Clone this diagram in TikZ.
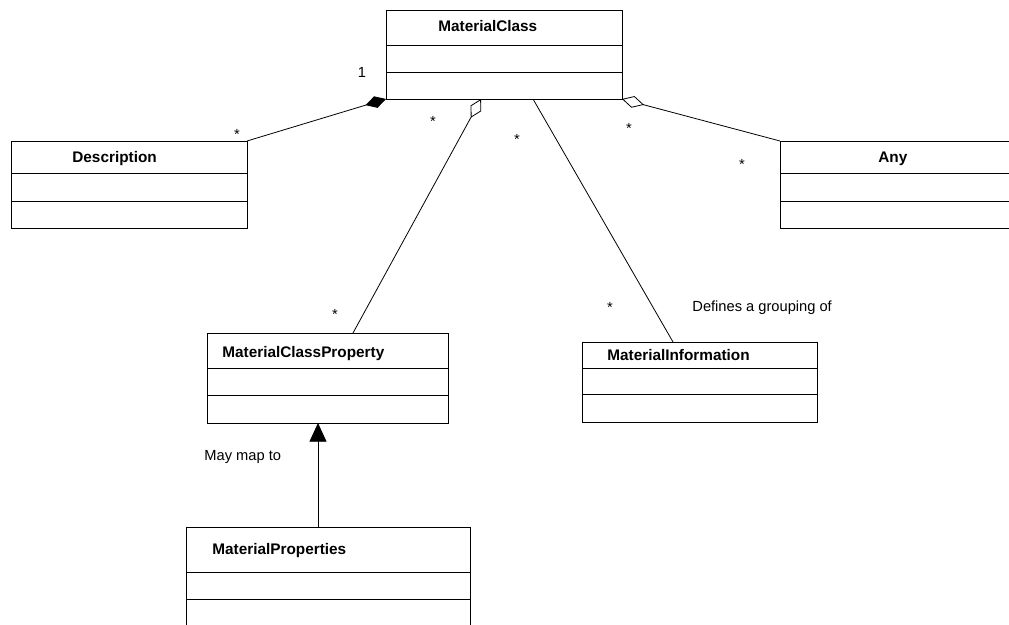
\documentclass[tikz,border=0pt]{standalone}
\usepackage{fontspec}
\setmainfont{Liberation Sans}
\usetikzlibrary{arrows.meta}

\begin{document}
\begin{tikzpicture}[x=0.75pt,y=-0.75pt,line width=0.6pt]
  \tikzstyle{classbox}=[draw,rectangle,inner sep=0pt,outer sep=0pt]
  \tikzstyle{classname}=[anchor=base west,inner sep=0pt,
    font=\bfseries\fontsize{11.5}{13}\selectfont]
  \tikzstyle{mult}=[anchor=base,inner sep=0pt,font=\fontsize{11}{13}\selectfont]
  \useasboundingbox (0,0) rectangle (1009,624);
  % classes
  \node[classbox,minimum width=177pt,minimum height=66.75pt] (mc) at (504,54.5) {};
  \node[classbox,minimum width=177pt,minimum height=65.25pt] (desc) at (129,184.5) {};
  \node[classbox,minimum width=177pt,minimum height=65.25pt] (anyc) at (898,184.5) {};
  \node[classbox,minimum width=180.75pt,minimum height=67.5pt] (mcp) at (327.5,378) {};
  \node[classbox,minimum width=176.25pt,minimum height=60pt] (minfo) at (699.5,382) {};
  \node[classbox,minimum width=213pt,minimum height=77.25pt] (mprop) at (328,578.5) {};
  \node[classname] (mct) at (438,32) {MaterialClass};
  \node[classname] (desct) at (72,162) {Description};
  \node[classname] (anyt) at (878,162) {Any};
  \node[classname] (mcpt) at (222,357) {MaterialClassProperty};
  \node[classname] (minfot) at (607,360) {MaterialInformation};
  \node[classname] (mpropt) at (212,554) {MaterialProperties};
  % compartments
  \draw (mc.west |- 0,45) -- (mc.east |- 0,45);
  \draw (mc.west |- 0,72) -- (mc.east |- 0,72);
  \draw (desc.west |- 0,173) -- (desc.east |- 0,173);
  \draw (desc.west |- 0,201) -- (desc.east |- 0,201);
  \draw (anyc.west |- 0,173) -- (anyc.east |- 0,173);
  \draw (anyc.west |- 0,201) -- (anyc.east |- 0,201);
  \draw (mcp.west |- 0,368) -- (mcp.east |- 0,368);
  \draw (mcp.west |- 0,395) -- (mcp.east |- 0,395);
  \draw (minfo.west |- 0,368) -- (minfo.east |- 0,368);
  \draw (minfo.west |- 0,394) -- (minfo.east |- 0,394);
  \draw (mprop.west |- 0,572) -- (mprop.east |- 0,572);
  \draw (mprop.west |- 0,599) -- (mprop.east |- 0,599);
  % associations
  \draw[-{Diamond[length=16pt,width=9pt]}] (desc.north east) -- (mc.south west);
  \draw[-{Diamond[open,length=16pt,width=9pt]}] (353,0 |- mcp.north) -- (481,0 |- mc.south);
  \draw (533,0 |- mc.south) -- (673,0 |- minfo.north);
  \draw[-{Diamond[open,length=17pt,width=9pt]}] (anyc.north west) -- (mc.south east);
  \draw[-{Triangle[length=14pt,width=12.75pt]}] (318,0 |- mprop.north) -- (318,0 |- mcp.south);
  % multiplicities and labels
  \node[mult] (one) at (362,78) {1};
  \node[mult] (s1) at (237,140) {*};
  \node[mult] (s2) at (433,127) {*};
  \node[mult] (s3) at (517,145) {*};
  \node[mult] (s4) at (629,133) {*};
  \node[mult] (s5) at (742,169) {*};
  \node[mult] (s6) at (335,319) {*};
  \node[mult] (s7) at (610,312) {*};
  \node[mult,anchor=base west] (grp) at (692,311) {Defines a grouping of};
  \node[mult,anchor=base west] (map) at (204,460) {May map to};
\end{tikzpicture}
\end{document}
